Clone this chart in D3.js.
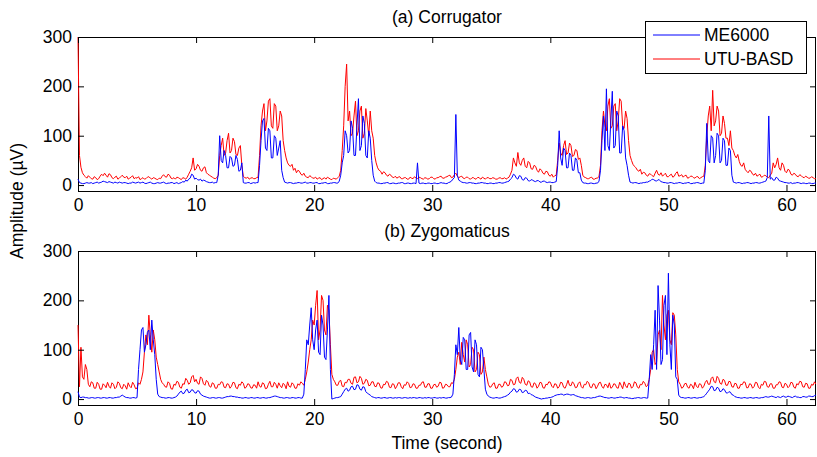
<!DOCTYPE html>
<html>
<head>
<meta charset="utf-8">
<script src="https://cdn.jsdelivr.net/npm/d3@7"></script>
<style>
  body { margin: 0; background: #fff; }
  svg { display: block; }
  text { font-family: "Liberation Sans", Arial, sans-serif; fill: #000; }
</style>
</head>
<body>
<svg id="chart" width="817" height="457"></svg>
<script>
// EMG amplitude envelopes (µV), one sample every 0.125 s from 0 to 62.5 s
const sampleStep = 0.125;

const corrME6000 = [
  12,5,4,3,3,4,5,4,4,5,3,4,5,6,4,5,6,8,7,6,5,7,6,5,4,6,5,4,6,5,4,5,5,4,3,4,4,6,5,4,
  5,6,4,5,6,4,3,4,5,6,4,3,3,4,5,4,4,5,6,4,3,4,4,5,5,3,4,5,3,4,5,7,6,10,8,12,14,22,20,12,
  14,11,10,12,8,10,9,7,6,5,5,6,4,5,5,20,100,50,45,70,60,35,35,58,55,38,40,60,52,28,30,45,5,4,4,5,5,3,4,5,
  4,5,5,40,90,130,135,75,70,115,110,55,55,100,95,60,75,90,30,15,6,5,4,5,5,4,3,4,4,5,5,4,4,5,6,4,4,5,5,4,
  4,5,5,3,3,4,4,5,5,3,3,4,4,5,5,4,4,8,20,45,60,110,100,65,70,130,115,60,60,120,175,70,80,140,125,60,55,110,95,50,
  20,8,5,4,4,3,3,4,4,5,5,3,3,4,4,3,3,4,4,5,5,3,3,4,4,3,3,4,4,3,45,4,3,4,4,3,3,4,4,3,
  3,4,4,3,3,4,5,4,4,3,3,5,6,8,12,15,143,20,10,8,6,5,5,4,4,5,5,4,4,3,3,4,4,5,5,4,4,3,3,4,
  4,3,3,4,4,5,5,4,4,5,6,7,8,12,15,22,20,14,12,19,18,11,10,15,14,9,8,11,10,8,7,9,9,6,6,8,8,6,5,6,
  6,5,5,6,7,40,110,55,40,75,70,35,35,65,60,30,30,55,50,25,25,10,5,4,4,3,3,4,4,3,3,4,4,8,30,90,140,70,195,80,
  70,130,190,75,80,150,140,65,65,120,110,55,40,20,6,5,4,5,5,4,3,4,4,5,5,6,6,8,9,12,11,9,8,11,10,7,6,5,5,4,
  4,5,5,4,3,4,4,5,5,4,3,4,4,5,5,3,3,4,4,5,5,4,3,4,4,30,125,50,45,100,95,45,60,105,100,45,50,95,90,40,
  40,75,70,20,6,5,4,5,5,4,3,4,4,5,5,4,3,4,4,5,5,4,4,5,6,7,8,15,140,12,15,10,10,16,14,9,8,7,6,5,
  5,4,4,5,3,4,4,5,5,4,3,4,4,3,3,4,4,3,3,4,4
];

const corrUTU = [
  300,60,36,25,20,17,14,19,16,13,12,17,15,11,13,18,22,19,24,20,16,23,21,15,13,16,18,12,14,17,20,16,15,18,12,14,16,19,13,15,
  14,17,11,13,15,12,13,16,17,14,12,15,14,12,11,14,13,18,21,17,16,22,20,14,13,15,12,16,15,13,11,15,14,12,16,22,28,35,55,30,
  33,42,38,30,28,35,37,25,22,20,18,16,14,13,15,20,60,80,95,60,65,90,105,65,70,95,88,62,60,75,80,40,18,15,14,16,12,14,15,13,
  13,15,16,60,120,150,165,110,130,170,175,120,115,165,160,110,120,150,140,90,70,55,45,40,38,42,30,34,25,30,28,22,20,24,18,16,15,19,17,14,
  14,16,12,14,15,11,13,15,12,16,14,12,11,14,13,12,15,18,30,70,120,200,245,130,150,100,105,140,170,100,110,150,160,95,105,155,130,100,150,110,
  95,60,45,35,30,28,22,27,25,20,18,22,20,16,15,18,14,16,17,13,13,15,15,12,12,16,14,13,17,14,13,16,15,13,12,15,14,12,13,16,
  16,13,12,15,15,17,18,14,14,16,17,19,20,15,16,21,24,18,15,17,18,14,13,16,16,13,12,15,15,12,13,16,14,12,16,14,12,15,15,13,
  13,15,14,12,12,14,15,13,13,15,12,14,16,22,30,55,45,38,66,45,40,50,55,38,35,48,45,33,32,40,38,30,26,33,30,24,22,28,27,20,
  18,22,16,19,20,50,85,65,60,80,90,62,65,85,80,58,60,72,70,52,55,40,20,16,15,13,13,15,16,12,12,14,14,18,40,110,150,120,110,160,
  175,115,120,160,165,110,130,175,170,120,115,150,135,90,60,50,42,38,35,30,28,32,22,26,25,20,18,23,22,19,17,24,30,22,20,25,18,21,24,17,
  17,20,22,16,18,24,27,18,19,21,16,19,20,14,15,18,18,15,14,17,17,13,15,17,18,40,100,140,160,110,192,120,130,160,150,100,105,140,125,95,
  95,80,110,75,70,60,55,62,48,40,38,45,32,28,25,30,28,22,20,24,18,20,22,16,17,20,19,16,15,20,24,45,35,42,55,35,30,45,40,28,
  25,32,30,22,20,24,22,18,17,21,19,16,15,18,16,14,14,17,15,13,13
];

const zygoME6000 = [
  15,4,3,4,4,3,3,2,2,3,3,2,2,3,3,2,2,3,3,2,2,3,3,2,2,3,3,4,4,6,8,6,4,3,3,2,2,3,3,2,
  3,60,100,140,145,95,110,135,140,100,160,120,90,40,10,5,4,3,3,2,2,3,3,2,2,3,4,6,10,14,16,11,12,18,20,13,14,19,18,13,
  12,17,16,10,8,6,5,4,3,2,2,3,3,2,2,3,3,2,2,3,4,5,5,6,6,5,5,4,4,3,3,2,2,3,3,2,2,3,3,2,
  2,3,3,2,2,3,3,2,2,3,3,4,5,6,6,5,4,3,3,2,2,3,3,2,2,3,3,2,2,3,3,2,2,10,60,120,110,150,185,120,
  100,140,160,95,90,170,150,85,80,140,210,60,0,1,2,3,3,4,5,10,15,20,22,16,18,25,26,19,20,29,28,20,18,25,24,15,12,10,8,5,
  4,3,2,3,3,2,2,3,3,2,2,3,3,2,2,3,2,3,3,2,2,3,3,2,2,3,2,3,3,2,2,3,3,2,2,3,2,3,3,2,
  2,3,3,2,2,3,2,3,3,2,2,3,3,4,10,50,110,90,145,80,70,125,120,60,60,130,135,65,55,120,110,50,45,105,100,60,20,10,6,4,
  3,2,2,3,3,2,2,3,4,5,6,8,10,14,16,21,20,14,15,20,19,13,14,18,17,11,12,9,8,6,4,3,2,1,0,1,1,2,2,3,
  3,4,5,7,8,9,9,10,10,8,9,10,10,9,8,9,9,7,6,5,4,3,3,2,2,3,3,2,2,3,3,4,5,6,6,5,4,3,3,2,
  2,3,3,2,2,3,3,4,4,3,2,3,3,2,2,1,1,2,2,3,3,2,2,3,3,2,2,40,90,60,110,180,60,230,160,70,80,190,210,90,
  255,110,60,170,150,45,40,8,4,3,3,2,2,3,3,2,2,3,3,2,2,3,3,4,5,8,12,16,20,26,25,17,18,24,22,15,16,21,19,13,
  12,15,14,9,8,5,4,3,3,2,2,3,3,2,2,3,3,2,2,3,3,2,2,3,3,4,5,4,4,5,6,5,4,3,5,4,3,5,6,4,
  4,6,5,4,3,5,6,4,4,3,3,5,5,4,4,6,6,5,5,7,8
];

const zygoUTU = [
  150,25,105,45,40,70,60,30,25,35,33,22,22,34,30,20,20,31,28,23,34,26,22,33,30,21,24,35,32,23,21,30,27,20,33,26,23,34,29,21,
  22,33,30,40,55,95,130,110,170,130,95,140,120,85,70,55,40,33,30,25,24,35,32,21,20,30,28,36,34,24,22,31,30,42,38,30,33,45,48,35,
  40,32,30,45,42,31,28,38,35,26,24,33,31,22,22,30,29,35,34,24,23,31,30,22,26,34,33,23,21,30,28,35,32,22,24,31,30,23,22,29,
  28,22,35,26,24,33,31,21,22,30,36,25,25,34,30,22,33,27,23,32,29,21,35,26,24,33,30,22,22,31,28,35,32,28,40,55,75,100,120,160,
  150,190,220,120,140,210,200,140,130,190,180,110,50,40,35,28,28,36,38,26,25,34,33,40,40,32,30,44,45,33,35,46,42,30,32,40,38,27,28,35,
  35,26,25,33,32,23,22,30,29,36,34,24,23,31,30,21,26,33,33,25,21,29,28,35,32,23,24,31,30,22,22,28,28,34,35,24,24,31,31,22,
  22,29,30,24,26,34,33,22,23,30,29,25,25,33,32,40,60,85,95,70,115,90,75,120,110,65,70,105,100,55,60,95,90,50,55,85,60,45,30,24,
  25,31,33,22,22,30,30,24,26,35,34,27,28,40,38,29,30,42,45,34,32,44,40,30,28,37,35,25,24,33,31,22,26,34,33,23,22,30,29,35,
  34,26,23,31,30,22,25,34,33,24,22,29,38,28,27,35,31,23,24,32,35,25,22,30,29,36,33,24,23,31,30,21,26,33,34,25,22,30,29,23,
  33,22,24,31,30,23,22,34,28,21,35,27,23,32,31,22,25,35,33,24,22,30,29,36,32,25,28,40,60,95,100,70,75,130,140,100,210,150,120,170,
  180,120,110,175,170,130,60,35,30,22,24,31,32,24,22,30,28,21,34,26,23,31,30,22,26,34,38,30,30,42,45,35,33,46,42,32,30,40,38,28,
  28,36,35,25,24,32,31,22,22,30,29,35,34,23,23,31,30,22,25,34,33,24,21,30,28,36,35,25,24,31,31,22,22,29,29,35,34,24,23,32,
  30,23,26,34,33,24,22,31,29,36,35,25,24,32,31,22,22,30,28,35,30
];

const seriesNames = ["ME6000", "UTU-BASD"];
const seriesColors = ["#0000ff", "#ff0000"];
const panelTitles = ["(a) Corrugator", "(b) Zygomaticus"];
const xTicks = [0, 10, 20, 30, 40, 50, 60];
const yTicks = [0, 100, 200, 300];
const xLabel = "Time (second)";
const yLabel = "Amplitude (\u00B5V)";

const svg = d3.select("#chart");
const left = 78, right = 816;
const fontSize = 17.5;

const panels = [
  { top: 37, bottom: 191, title: panelTitles[0], series: [corrME6000, corrUTU] },
  { top: 251, bottom: 405, title: panelTitles[1], series: [zygoME6000, zygoUTU] }
];

const x = d3.scaleLinear().domain([0, 62.5]).range([left, right]);

panels.forEach((p, pi) => {
  const y = d3.scaleLinear().domain([-12, 300]).range([p.bottom, p.top]);
  const g = svg.append("g");

  // clip to the plot box, letting the trace sit on the left border at t = 0
  const clipId = "clip" + pi;
  svg.append("clipPath").attr("id", clipId)
    .append("rect").attr("x", left - 1).attr("y", p.top)
    .attr("width", right - left + 1).attr("height", p.bottom - p.top);

  // signals: UTU-BASD first, ME6000 drawn over it
  const line = d3.line()
    .x((d, i) => x(i * sampleStep))
    .y(d => y(d));
  const plotG = g.append("g").attr("clip-path", `url(#${clipId})`);
  [1, 0].forEach(k => {
    plotG.append("path")
      .datum(p.series[k])
      .attr("fill", "none")
      .attr("stroke", seriesColors[k])
      .attr("stroke-width", 1)
      .attr("stroke-linejoin", "miter")
      .attr("d", line);
  });

  // axes with inward ticks on all four sides
  const styleAxis = sel => {
    sel.select(".domain").remove();
    sel.selectAll(".tick line").attr("stroke", "#000").attr("stroke-width", 1);
    sel.selectAll("text").attr("font-size", fontSize).attr("fill", "#000")
      .attr("font-family", '"Liberation Sans", Arial, sans-serif');
  };
  g.append("g").attr("transform", `translate(0,${p.bottom})`)
    .call(d3.axisBottom(x).tickValues(xTicks).tickFormat(d3.format("d"))
      .tickSizeInner(-6).tickSizeOuter(0).tickPadding(8))
    .call(styleAxis);
  g.append("g").attr("transform", `translate(0,${p.top})`)
    .call(d3.axisTop(x).tickValues(xTicks).tickFormat("")
      .tickSizeInner(-6).tickSizeOuter(0))
    .call(styleAxis);
  g.append("g").attr("transform", `translate(${left},0)`)
    .call(d3.axisLeft(y).tickValues(yTicks).tickFormat(d3.format("d"))
      .tickSizeInner(-6).tickSizeOuter(0).tickPadding(6))
    .call(styleAxis);
  g.append("g").attr("transform", `translate(${right},0)`)
    .call(d3.axisRight(y).tickValues(yTicks).tickFormat("")
      .tickSizeInner(-6).tickSizeOuter(0))
    .call(styleAxis);

  // plot box (drawn under the traces at the left edge so the t = 0 trace shows)
  g.insert("rect", ":first-child")
    .attr("x", left + 0.5).attr("y", p.top + 0.5)
    .attr("width", right - left - 1).attr("height", p.bottom - p.top)
    .attr("fill", "none").attr("stroke", "#000").attr("stroke-width", 1);

  g.append("text")
    .attr("x", (left + right) / 2).attr("y", p.top - 14)
    .attr("text-anchor", "middle").attr("font-size", fontSize)
    .text(p.title);
});

svg.append("text")
  .attr("x", (left + right) / 2).attr("y", 449)
  .attr("text-anchor", "middle").attr("font-size", fontSize)
  .text(xLabel);

svg.append("text")
  .attr("transform", "translate(23,201) rotate(-90)")
  .attr("text-anchor", "middle").attr("font-size", fontSize)
  .text(yLabel);

// legend
const legend = svg.append("g").attr("transform", "translate(645,21)");
legend.append("rect")
  .attr("x", 0.5).attr("y", 0.5).attr("width", 161).attr("height", 52)
  .attr("fill", "#fff").attr("stroke", "#000").attr("stroke-width", 1);
seriesNames.forEach((name, i) => {
  const cy = 14 + i * 24;
  legend.append("line")
    .attr("x1", 8).attr("x2", 55).attr("y1", cy).attr("y2", cy)
    .attr("stroke", seriesColors[i]).attr("stroke-width", 1);
  legend.append("text")
    .attr("x", 59).attr("y", cy).attr("dy", "0.35em")
    .attr("font-size", fontSize).text(name);
});
</script>
</body>
</html>
